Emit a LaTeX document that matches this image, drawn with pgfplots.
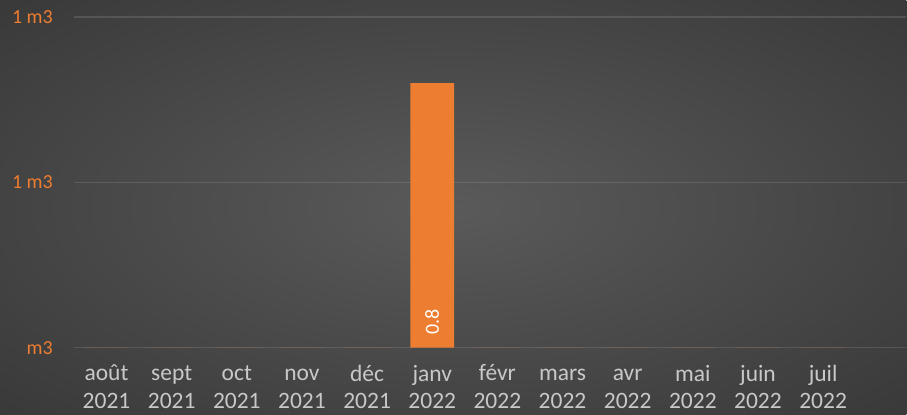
\documentclass[border=0pt]{standalone}
\usepackage{pgfplots}
\pgfplotsset{compat=1.18}
\usepackage{fontspec}
\setmainfont{Carlito}
\definecolor{orangeX}{HTML}{ED7D31}
\definecolor{xlab}{HTML}{C8C8C8}
\definecolor{bgin}{HTML}{5A5A5A}
\definecolor{bgout}{HTML}{272727}
\newcommand\lab[2]{\rule{0pt}{16pt}#1\\#2}
\pgfdeclareradialshading{bgshade}{\pgfpoint{0bp}{0bp}}{color(0bp)=(bgin); color(55bp)=(bgout); color(71bp)=(bgout); color(100bp)=(bgout)}
\begin{document}
\begin{tikzpicture}
\shade[shading=bgshade] (0,0) rectangle (907pt,415pt);
\begin{axis}[
  at={(74pt,67pt)}, anchor=south west,
  scale only axis, width=833pt, height=331pt,
  xmin=-0.5, xmax=12.276, ymin=0, ymax=1,
  axis line style={draw=none},
  major tick length=0pt,
  ymajorgrids,
  grid style={white, opacity=0.12, line width=1.5pt},
  ytick={0,0.5,1},
  yticklabels={m3,1 m3,1 m3},
  yticklabel style={anchor=east, inner sep=0pt, xshift=-21pt, text=orangeX, font=\fontsize{20}{24}\selectfont},
  xtick={0,1,2,3,4,5,6,7,8,9,10,11},
  xticklabels={{\lab{août}{2021}},{\lab{sept}{2021}},{\lab{oct}{2021}},{\lab{nov}{2021}},{\lab{déc}{2021}},{\lab{janv}{2022}},{\lab{févr}{2022}},{\lab{mars}{2022}},{\lab{avr}{2022}},{\lab{mai}{2022}},{\lab{juin}{2022}},{\lab{juil}{2022}}},
  xticklabel style={align=center, anchor=north, inner sep=0pt, yshift=-17pt, text=xlab, font=\fontsize{23.5}{27.5}\selectfont},
]
\addplot[ybar, bar width=44pt, fill=orangeX, draw=none] coordinates {(0,0) (1,0) (2,0) (3,0) (4,0) (5,0.8) (6,0) (7,0) (8,0) (9,0) (10,0) (11,0)};
\addplot[draw=none, mark=none, point meta=explicit symbolic,
  nodes near coords={\pgfplotspointmeta},
  every node near coord/.style={rotate=90, anchor=west, inner xsep=13pt, inner ysep=0pt, text=white, font=\fontsize{20}{24}\selectfont}]
  coordinates {(5,0) [0.8]};
\end{axis}
\end{tikzpicture}
\end{document}
